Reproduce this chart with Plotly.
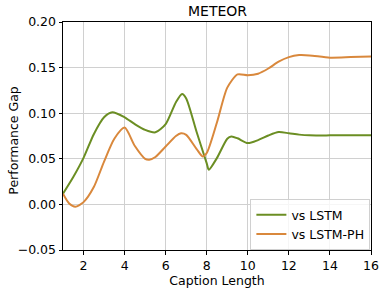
import plotly.graph_objects as go

# values
lstm_x = [1, 1.5, 2, 2.5, 3, 3.4, 4, 4.5, 5, 5.5, 6, 6.5, 6.8, 7, 7.5, 8, 8.1, 8.5, 9, 9.2, 9.5,
          10, 10.5, 11, 11.5, 12, 12.5, 13, 14, 15, 16]
vs_lstm = [0.0117, 0.030, 0.051, 0.077, 0.0955, 0.101, 0.0955, 0.088, 0.0817, 0.079, 0.088, 0.112,
           0.121, 0.1162, 0.080, 0.045, 0.038, 0.051, 0.072, 0.0745, 0.0725,
           0.0672, 0.0705, 0.0755, 0.0793, 0.078, 0.0765, 0.0757, 0.0757, 0.0759, 0.0759]

ph_x = [1, 1.3, 1.6, 2, 2.5, 3, 3.5, 4, 4.5, 5, 5.2, 5.5, 6, 6.5, 6.75, 7, 7.5, 7.8, 8, 8.5, 9,
        9.5, 10, 10.5, 11, 11.5, 12, 12.5, 13, 14, 15, 16]
vs_lstm_ph = [0.0117, 0.001, -0.0025, 0.0025, 0.019, 0.047, 0.072, 0.0842, 0.064, 0.050, 0.049,
              0.052, 0.0635, 0.075, 0.078, 0.0763, 0.061, 0.0526, 0.0563, 0.090, 0.128,
              0.1425, 0.1416, 0.1433, 0.149, 0.1565, 0.1615, 0.1637, 0.1634, 0.1609, 0.1615, 0.1623]

x_ticks = [2, 4, 6, 8, 10, 12, 14, 16]
y_ticks = [-0.05, 0.0, 0.05, 0.10, 0.15, 0.20]
y_tick_text = ["\u22120.05", "0.00", "0.05", "0.10", "0.15", "0.20"]

green = "#6b8e23"
orange = "#d9883c"

fig = go.Figure()
fig.add_trace(go.Scatter(x=lstm_x, y=vs_lstm, mode="lines", name="vs LSTM",
                         line=dict(color=green, width=2, shape="spline", smoothing=0.7)))
fig.add_trace(go.Scatter(x=ph_x, y=vs_lstm_ph, mode="lines", name="vs LSTM-PH",
                         line=dict(color=orange, width=2, shape="spline", smoothing=0.7)))

axis_common = dict(showline=True, linecolor="black", linewidth=1, mirror=True,
                   ticks="outside", ticklen=3.5, tickcolor="black", automargin=False,
                   showgrid=True, gridcolor="#d0d0d0", gridwidth=1, zeroline=False,
                   tickfont=dict(size=12.5, color="black"))

fig.update_xaxes(range=[1, 16], tickvals=x_ticks, ticktext=[str(v) for v in x_ticks],
                 title=dict(text="Caption Length", font=dict(size=12.5, color="black"), standoff=0),
                 **axis_common)
fig.update_yaxes(range=[-0.05, 0.20], tickvals=y_ticks, ticktext=y_tick_text, **axis_common)

fig.add_annotation(text="Performance Gap", xref="paper", yref="paper",
                   x=-0.162, y=0.48, xanchor="center", yanchor="middle",
                   textangle=-90, showarrow=False, font=dict(size=12.5, color="black"))

fig.update_layout(
    width=385, height=290,
    margin=dict(l=63, r=14, t=22, b=40),
    paper_bgcolor="white", plot_bgcolor="white",
    font=dict(family="DejaVu Sans", size=12.5, color="black"),
    title=dict(text="METEOR", x=0.565, xanchor="center", y=0.98, yanchor="top",
               font=dict(size=14, color="black")),
    legend=dict(x=0.998, y=0.0, xanchor="right", yanchor="bottom",
                bgcolor="rgba(255,255,255,0.8)", bordercolor="#d0d0d0", borderwidth=1,
                font=dict(size=12.5), tracegroupgap=0, itemwidth=30),
    showlegend=True,
)

fig.write_html("out.html", config={"displayModeBar": False},
               post_script="document.body.style.margin='0';document.body.style.overflow='hidden';")
